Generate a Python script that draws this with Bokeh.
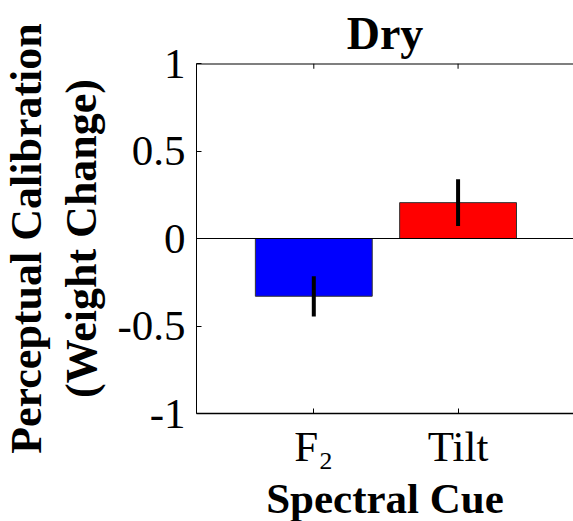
from bokeh.plotting import figure
from bokeh.models import FixedTicker, Span, Title, ColumnDataSource
from bokeh.embed import file_html
from bokeh.resources import INLINE

# ---- data ----
categories = ["F\u2082", "Tilt"]
cat_x = [1, 2]
means = [-0.33, 0.205]
errors = [0.115, 0.133]
bar_colors = ["#0000FF", "#FF0000"]
y_ticks = [-1, -0.5, 0, 0.5, 1]
y_tick_labels = ["-1", "-0.5", "0", "0.5", "1"]
y_min, y_max = -1, 1

FONT = "Liberation Serif"

src = ColumnDataSource(dict(
    x=cat_x, top=means, color=bar_colors,
    lo=[m - e for m, e in zip(means, errors)],
    hi=[m + e for m, e in zip(means, errors)],
))

p = figure(width=573, height=521, x_range=(0.187, 2.80), y_range=(y_min, y_max),
           output_backend="svg", toolbar_location=None,
           min_border_left=196, min_border_right=0,
           min_border_top=63, min_border_bottom=106)
p.grid.visible = False
p.outline_line_color = None

p.vbar(x="x", top="top", bottom=0, width=0.81, fill_color="color",
       line_color="#333333", line_width=1, source=src)
p.segment(x0="x", y0="lo", x1="x", y1="hi", line_color="black",
          line_width=4, source=src)
p.add_layout(Span(location=0, dimension="width", line_color="black", line_width=1))

# top spine and its inward ticks
p.add_layout(Span(location=y_max, dimension="width", line_color="black", line_width=2))
tick_len = (y_max - y_min) * 0.015
p.segment(x0=cat_x, y0=[y_max] * len(cat_x), x1=cat_x,
          y1=[y_max - tick_len] * len(cat_x), line_color="black", line_width=1)

# y axis
ya = p.yaxis[0]
ya.ticker = FixedTicker(ticks=y_ticks)
ya.major_label_overrides = {t: l for t, l in zip(y_ticks, y_tick_labels)}
ya.major_tick_in = 5
ya.major_tick_out = 0
ya.minor_tick_line_color = None
ya.major_label_standoff = 11
ya.major_label_text_font = FONT
ya.major_label_text_font_size = "43px"
ya.major_label_text_color = "black"
ya.axis_line_color = "black"

# x axis
xa = p.xaxis[0]
xa.ticker = FixedTicker(ticks=cat_x)
xa.major_label_overrides = {x: c for x, c in zip(cat_x, categories)}
xa.major_tick_in = 5
xa.major_tick_out = 0
xa.minor_tick_line_color = None
xa.major_label_standoff = 9
xa.major_label_text_font = FONT
xa.major_label_text_font_size = "43px"
xa.major_label_text_color = "black"
xa.axis_line_color = "black"
xa.axis_line_width = 1.5

# title
p.title = Title(text="Dry", align="center", standoff=10,
                text_font=FONT, text_font_size="46px", text_font_style="bold",
                text_color="black")

# x label
p.add_layout(Title(text="Spectral Cue", align="center", standoff=0,
                   text_font=FONT, text_font_size="43px", text_font_style="bold",
                   text_color="black"), "below")

# y label (two lines)
p.add_layout(Title(text="(Weight Change)", align="center", standoff=17,
                   text_font=FONT, text_font_size="44px", text_font_style="bold",
                   text_color="black"), "left")
p.add_layout(Title(text="Perceptual Calibration", align="center", standoff=-8,
                   text_font=FONT, text_font_size="44px", text_font_style="bold",
                   text_color="black"), "left")

open("out.html", "w").write(file_html(p, INLINE))
